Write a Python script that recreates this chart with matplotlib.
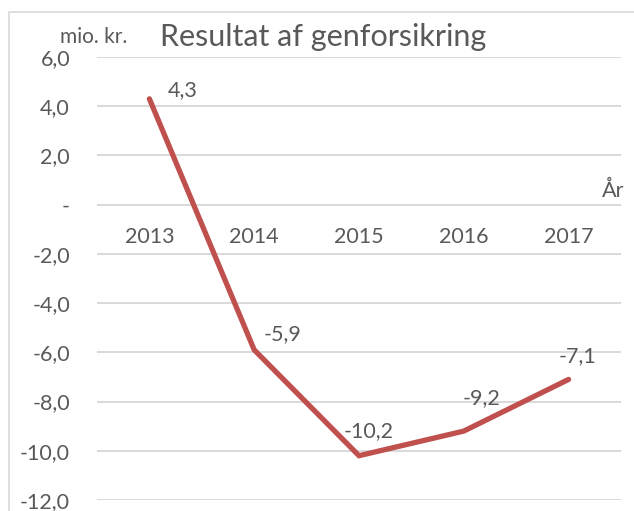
import matplotlib.pyplot as plt
from matplotlib.patches import Rectangle

years = ['2013', '2014', '2015', '2016', '2017']
result = [4.3, -5.9, -10.2, -9.2, -7.1]
value_labels = ['4,3', '-5,9', '-10,2', '-9,2', '-7,1']
y_ticks = [6, 4, 2, 0, -2, -4, -6, -8, -10, -12]

# label offsets from each point, in pixels (x right, y up)
label_offsets = [(33, 3), (28, 10), (10, 19), (18, 27), (9, 17)]

TXT = '#595959'
GRID = '#D9D9D9'
LINE = '#C0504D'
PX = 72 / 100  # points per pixel at dpi 100

plt.rcParams['font.family'] = ['Lato', 'DejaVu Sans']

fig = plt.figure(figsize=(6.34, 5.11), dpi=100)
fig.patches.append(Rectangle((9 / 634, -0.1), 1.2, 1 - 12 / 511 + 0.1,
                             transform=fig.transFigure, fill=False,
                             edgecolor=GRID, linewidth=1.2))

ax = fig.add_axes([97 / 634, 1 - 500 / 511, (621 - 97) / 634, (500 - 57) / 511])
x = list(range(len(years)))
ax.plot(x, result, color=LINE, linewidth=3.8, solid_capstyle='round',
        solid_joinstyle='miter', zorder=3)

ax.set_xlim(-0.5, len(years) - 0.5)
ax.set_ylim(-12, 6)
ax.set_yticks(y_ticks)
ax.set_yticklabels(['-' if v == 0 else f'{v:.1f}'.replace('.', ',') for v in y_ticks])
ax.set_xticks([])
ax.tick_params(axis='y', length=0, pad=27 * PX, labelsize=15.5, labelcolor=TXT)
for s in ax.spines.values():
    s.set_visible(False)
for v in y_ticks:
    ax.axhline(v, color=GRID, linewidth=1.4, zorder=1)

# category labels sit under the zero line
for i, yr in enumerate(years):
    ax.annotate(yr, (i, 0), xytext=(0, -38 * PX), textcoords='offset points',
                ha='center', va='baseline', fontsize=15.5, color=TXT)

for i, (v, lab) in enumerate(zip(result, value_labels)):
    dx, dy = label_offsets[i]
    ax.annotate(lab, (i, v), xytext=(dx * PX, dy * PX), textcoords='offset points',
                ha='center', va='baseline', fontsize=15.5, color=TXT)

ax.annotate('År', (1, 0), xycoords=('axes fraction', 'data'),
            xytext=(3 * PX, 8 * PX), textcoords='offset points',
            ha='right', va='baseline', fontsize=15.5, color=TXT)

fig.text(160 / 634, 1 - 46 / 511, 'Resultat af genforsikring', ha='left',
         va='baseline', fontsize=22, color=TXT)
fig.text(60 / 634, 1 - 43 / 511, 'mio. kr.', ha='left', va='baseline',
         fontsize=15, color=TXT)

fig.savefig('out.png', dpi=100)
